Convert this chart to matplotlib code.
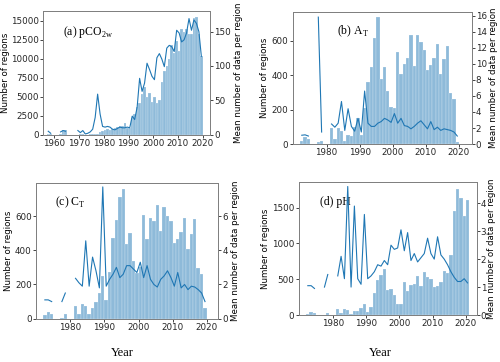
import numpy as np
import matplotlib
matplotlib.use("Agg")
import matplotlib.pyplot as plt

nan = np.nan

# (a) pCO2w : bars from 1957, line from 1957
start_a = 1957
counts_a = [150, 50, 0, 0, 0, 100, 550, 550, 0, 0, 0, 0, 0, 80, 120, 0, 0, 30, 60, 80,
            150, 300, 450, 600, 700, 600, 700, 900, 1000, 1100, 1200, 1600, 900, 900,
            2200, 2700, 3700, 4200, 5300, 6300, 5000, 5500, 4300, 5000, 4200, 4600,
            6900, 8400, 9000, 10000, 11800, 10800, 12300, 11000, 13900, 13500, 13900,
            13300, 13300, 15300, 15500, 13300, 10400]
mean_a = [5, 2, nan, nan, nan, 4, 6, 5, nan, nan, nan, nan, 6, 3, 6, 1, 2, 4, 8, 25,
          59, 30, 12, 11, 12, 11, 8, 7, 9, 11, 10, 10, 11, 10,
          27, 22, 40, 82, 63, 75, 104, 95, 85, 80, 112, 118, 110, 99, 126, 130,
          128, 121, 152, 148, 135, 138, 148, 169, 152, 167, 162, 150, 114]

# (b) AT
start_b = 1972
counts_b = [15, 40, 30, 0, 0, 10, 20, 0, 0,
            95, 30, 95, 75, 20, 50, 45, 100, 150, 50,
            210, 360, 450, 620, 740, 380, 450, 310, 215, 210,
            535, 410, 465, 500, 635, 455, 635, 595, 545, 430,
            460, 500, 585, 405, 495, 570, 300, 265, 10]
mean_b = [1.1, 1.15, 1.0, nan, nan, 15.8, 1.5, nan, nan,
          2.5, 2.1, 2.6, 5.3, 1.7, 4.4, 2.2, 1.6, 3.2, 1.5,
          6.6, 2.6, 2.2, 2.2, 2.6, 2.8, 3.2, 3.0, 2.7, 3.8,
          2.6, 3.2, 2.3, 2.2, 1.9, 2.2, 2.6, 2.9, 2.4, 1.9,
          2.8, 1.8, 2.1, 1.7, 1.9, 1.8, 1.7, 1.5, 1.0]

# (c) CT
start_c = 1972
counts_c = [20, 40, 30, 0, 0, 5, 25, 0, 0,
            75, 30, 85, 75, 25, 60, 100, 150, 250, 110,
            270, 470, 575, 710, 760, 435, 500, 335, 265, 300,
            605, 465, 590, 570, 665, 515, 650, 600, 570, 440,
            465, 505, 590, 405, 495, 580, 295, 260, 60]
mean_c = [1.1, 1.1, 1.0, nan, nan, 1.0, 1.5, nan, nan,
          2.36, 2.1, 1.9, 4.55, 1.9, 3.6, 2.8, 1.8, 7.7, 1.9,
          2.3, 2.6, 3.0, 2.4, 2.6, 3.1, 3.1, 2.9, 2.7, 3.3,
          2.4, 3.1, 2.3, 2.0, 1.85, 2.3, 2.5, 2.8, 2.4, 1.9,
          2.7, 1.8, 2.0, 1.7, 1.9, 1.85, 1.7, 1.5, 1.0]

# (d) pH
start_d = 1972
counts_d = [15, 40, 30, 0, 0, 5, 25, 0, 0,
            80, 30, 80, 70, 20, 50, 50, 100, 150, 40,
            110, 310, 490, 555, 640, 355, 370, 275, 160, 155,
            465, 330, 425, 435, 540, 400, 600, 525, 500, 395,
            410, 455, 615, 580, 840, 1460, 1760, 1640, 1390, 1600]
mean_d = [1.05, 1.05, 0.95, nan, nan, 1.0, 1.45, nan, nan,
          1.4, 2.1, 1.3, 4.6, 1.0, 3.9, 1.3, 1.1, 3.6, 1.3,
          1.4, 1.55, 1.8, 1.75, 1.95, 1.8, 2.5, 2.35, 2.4, 3.05,
          2.3, 2.95, 1.95, 2.2, 1.9, 2.05, 2.2, 2.75, 2.2, 2.0,
          2.8, 2.15, 2.0, 1.8, 1.55, 1.35, 1.2, 1.2, 1.3, 1.15]

panels = [
    dict(start=start_a, counts=counts_a, mean=mean_a, label='(a) pCO$_{\\mathregular{2w}}$',
         pos=[0.0866, 0.628, 0.3334, 0.3416], xlim=(1955.5, 2023), ylim=16275, y2lim=180,
         yt=[0, 2500, 5000, 7500, 10000, 12500, 15000], y2t=[0, 50, 100, 150],
         xt=[1960, 1970, 1980, 1990, 2000, 2010, 2020], txt=(0.118, 0.833),
         lab=(-0.225, 1.168)),
    dict(start=start_b, counts=counts_b, mean=mean_b, label='(b) A$_{\\mathregular{T}}$',
         pos=[0.585, 0.602, 0.358, 0.364], xlim=(1969.7, 2023.8), ylim=767, y2lim=16.4,
         yt=[0, 200, 400, 600], y2t=list(range(0, 17, 2)),
         xt=[1980, 1990, 2000, 2010, 2020], txt=(0.249, 0.853),
         lab=(-0.155, 1.125)),
    dict(start=start_c, counts=counts_c, mean=mean_c, label='(c) C$_{\\mathregular{T}}$',
         pos=[0.072, 0.1196, 0.3646, 0.374], xlim=(1969.9, 2023.4), ylim=791, y2lim=7.91,
         yt=[0, 200, 400, 600], y2t=[0, 2, 4, 6],
         xt=[1980, 1990, 2000, 2010, 2020], txt=(0.104, 0.857),
         lab=(-0.152, 1.092)),
    dict(start=start_d, counts=counts_d, mean=mean_d, label='(d) pH',
         pos=[0.597, 0.1298, 0.356, 0.3666], xlim=(1969.7, 2023.2), ylim=1854, y2lim=4.75,
         yt=[0, 500, 1000, 1500], y2t=[0, 1, 2, 3, 4],
         xt=[1980, 1990, 2000, 2010, 2020], txt=(0.118, 0.849),
         lab=(-0.187, 1.084)),
]

fig = plt.figure(figsize=(5, 3.62), dpi=100)
blue = '#1f77b4'
serif = ['Liberation Serif', 'DejaVu Serif']

for p in panels:
    years = np.arange(p['start'], p['start'] + len(p['counts']))
    ax = fig.add_axes(p['pos'])
    ax.bar(years, p['counts'], width=1, align='edge', color=blue, alpha=0.5,
           edgecolor='white', linewidth=0.3)
    ax.set_xlim(*p['xlim'])
    ax.set_ylim(0, p['ylim'])
    ax.set_xticks(p['xt'])
    ax.set_yticks(p['yt'])
    ax.set_ylabel('Number of regions', fontsize=6.2)
    ax.yaxis.set_label_coords(p['lab'][0], 0.5)
    ax.yaxis.label.set_verticalalignment('center')
    ax.tick_params(labelsize=6.3, length=2, width=0.6, pad=1, colors='0.15')
    ax.text(p['txt'][0], p['txt'][1], p['label'], transform=ax.transAxes,
            fontsize=8.5, family=serif, va='center')

    ax2 = ax.twinx()
    ax2.plot(years + 0.5, p['mean'], color=blue, lw=0.8)
    ax2.set_ylim(0, p['y2lim'])
    ax2.set_yticks(p['y2t'])
    ax2.set_ylabel('Mean number of data per region', fontsize=6.2)
    ax2.yaxis.set_label_coords(p['lab'][1], 0.5)
    ax2.yaxis.label.set_verticalalignment('center')
    ax2.tick_params(labelsize=6.3, length=2, width=0.6, pad=1, colors='0.15')
    for a in (ax, ax2):
        for s in a.spines.values():
            s.set_color('0.5')
            s.set_linewidth(0.7)

fig.text(122 / 500, 1 - 352.7 / 362, 'Year', fontsize=9, family=serif, ha='center', va='center')
fig.text(380 / 500, 1 - 352.7 / 362, 'Year', fontsize=9, family=serif, ha='center', va='center')

fig.savefig('out.png', dpi=100)
